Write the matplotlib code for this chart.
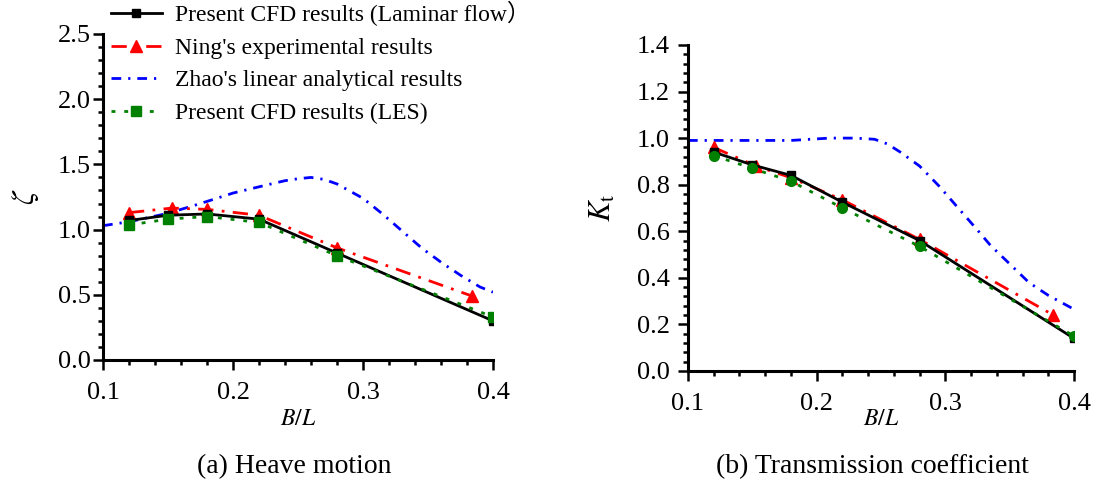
#! /usr/bin/python

"""
Heave motion and transmission coefficient of the floating breakwater
against the relative width B/L.
"""

# LIBRARIES
import matplotlib
matplotlib.use("Agg")
import matplotlib.pyplot as plt
from matplotlib.ticker import MultipleLocator, FormatStrFormatter



# B/L of the computed cases and of the experiment
x_cfd = [0.12, 0.15, 0.18, 0.22, 0.28, 0.40]
x_exp = [0.12, 0.153, 0.18, 0.22, 0.28, 0.384]

# Heave motion (zeta)
zeta_lam = [1.07, 1.11, 1.12, 1.08, 0.82, 0.30]
zeta_exp = [1.13, 1.165, 1.155, 1.11, 0.86, 0.49]
zeta_les = [1.035, 1.08, 1.10, 1.055, 0.80, 0.33]

x_zeta_ana = [0.10, 0.12, 0.15, 0.175, 0.20, 0.225, 0.24, 0.25, 0.26, 0.27,
              0.28, 0.30, 0.315, 0.33, 0.345, 0.36, 0.375, 0.39, 0.40]
zeta_ana = [1.03, 1.06, 1.125, 1.20, 1.28, 1.34, 1.375, 1.39, 1.40, 1.385,
            1.35, 1.24, 1.12, 0.99, 0.86, 0.75, 0.65, 0.56, 0.52]

# Transmission coefficient (Kt)
kt_lam = [0.94, 0.885, 0.84, 0.725, 0.56, 0.14]
kt_exp = [0.96, 0.88, 0.83, 0.735, 0.565, 0.24]
kt_les = [0.925, 0.87, 0.815, 0.70, 0.535, 0.15]

x_kt_ana = [0.10, 0.14, 0.18, 0.21, 0.23, 0.245, 0.255, 0.265, 0.28, 0.295,
            0.31, 0.325, 0.335, 0.35, 0.365, 0.38, 0.39, 0.40]
kt_ana = [0.99, 0.99, 0.99, 1.00, 1.00, 0.995, 0.975, 0.94, 0.88, 0.795,
          0.70, 0.605, 0.54, 0.46, 0.38, 0.325, 0.295, 0.265]

labels = ["Present CFD results (Laminar flow\uff09",
          "Ning's experimental results",
          "Zhao's linear analytical results",
          "Present CFD results (LES)"]



def styleAxis(ax, ymax, ystep, yminor, ypad):

    """
    ============================================================================
    STYLEAXIS
    ============================================================================
    """

    ax.set_xlim(0.1, 0.4)
    ax.set_ylim(0.0, ymax)

    ax.xaxis.set_major_locator(MultipleLocator(0.1))
    ax.xaxis.set_minor_locator(MultipleLocator(0.02))
    ax.yaxis.set_major_locator(MultipleLocator(ystep))
    ax.yaxis.set_minor_locator(MultipleLocator(yminor))
    ax.xaxis.set_major_formatter(FormatStrFormatter("%.1f"))
    ax.yaxis.set_major_formatter(FormatStrFormatter("%.1f"))

    for side in ["top", "right"]:
        ax.spines[side].set_visible(False)
    for side in ["left", "bottom"]:
        ax.spines[side].set_linewidth(2.2)

    ax.tick_params(which = "both", direction = "out", width = 1.8,
                   labelsize = 19)
    ax.tick_params(which = "major", length = 7)
    ax.tick_params(which = "minor", length = 3.5)
    ax.tick_params(axis = "x", pad = 9)
    ax.tick_params(axis = "y", pad = ypad)



def plotSeries(ax, x_ana, y_ana, y_lam, y_exp, y_les, les_marker):

    """
    ============================================================================
    PLOTSERIES
    ============================================================================
    """

    lam, = ax.plot(x_cfd, y_lam, ls = "-", lw = 2.0, c = "black",
                   marker = "s", ms = 5.5, zorder = 4)
    exp, = ax.plot(x_exp, y_exp, lw = 2.0, c = "red", dashes = (5.5, 3, 1, 3),
                   marker = "^", ms = 8.5, zorder = 3)
    ana, = ax.plot(x_ana, y_ana, lw = 2.0, c = "blue",
                   dashes = (3.5, 2.5, 0.8, 2.5), zorder = 2)
    les, = ax.plot(x_cfd, y_les, lw = 2.0, c = "green", dashes = (1.4, 3.2),
                   marker = les_marker, ms = 7, zorder = 5)

    return [lam, exp, ana, les]



def main():

    """
    ============================================================================
    MAIN
    ============================================================================
    """

    plt.rcParams["font.family"] = ["Liberation Serif", "Noto Sans CJK SC"]
    plt.rcParams["mathtext.fontset"] = "stix"

    fig = plt.figure(figsize = (10.96, 4.84), dpi = 100)

    # (a) Heave motion
    ax1 = fig.add_axes([0.0940, 0.2562, 0.3558, 0.6736])
    handles = plotSeries(ax1, x_zeta_ana, zeta_ana, zeta_lam, zeta_exp,
                         zeta_les, "s")
    styleAxis(ax1, 2.5, 0.5, 0.1, 2)
    ax1.set_xlabel(r"$B/L$", fontsize = 17)
    ax1.xaxis.set_label_coords(0.5, -0.184)
    ax1.xaxis.label.set_va("center")
    ax1.set_ylabel(r"$\zeta$", fontsize = 22)
    ax1.yaxis.set_label_coords(-0.197, 0.5)
    ax1.yaxis.label.set_va("center")

    # (b) Transmission coefficient
    ax2 = fig.add_axes([0.6277, 0.2335, 0.3522, 0.6736])
    plotSeries(ax2, x_kt_ana, kt_ana, kt_lam, kt_exp, kt_les, "o")
    styleAxis(ax2, 1.4, 0.2, 0.04, 6)
    ax2.set_xlabel(r"$B/L$", fontsize = 17)
    ax2.xaxis.set_label_coords(0.5, -0.150)
    ax2.xaxis.label.set_va("center")
    ax2.set_ylabel(r"$K_{\rm t}$", fontsize = 22)
    ax2.yaxis.set_label_coords(-0.22, 0.5)
    ax2.yaxis.label.set_va("center")

    # Legend across the top of the left panel
    fig.legend(handles, labels, loc = "upper left",
               bbox_to_anchor = (111 / 1096.0, 1 - 1 / 484.0),
               frameon = False, fontsize = 17, borderpad = 0,
               borderaxespad = 0, handlelength = 2.15, handletextpad = 0.55,
               labelspacing = 0.47)

    # Panel captions
    fig.text(294 / 1096.0, 1 - 467 / 484.0, "(a) Heave motion",
             ha = "center", va = "center", fontsize = 20)
    fig.text(872 / 1096.0, 1 - 467 / 484.0, "(b) Transmission coefficient",
             ha = "center", va = "center", fontsize = 20)

    fig.savefig("out.png", dpi = 100)



# Run this when script is called from terminal
if __name__ == "__main__":
    main()
